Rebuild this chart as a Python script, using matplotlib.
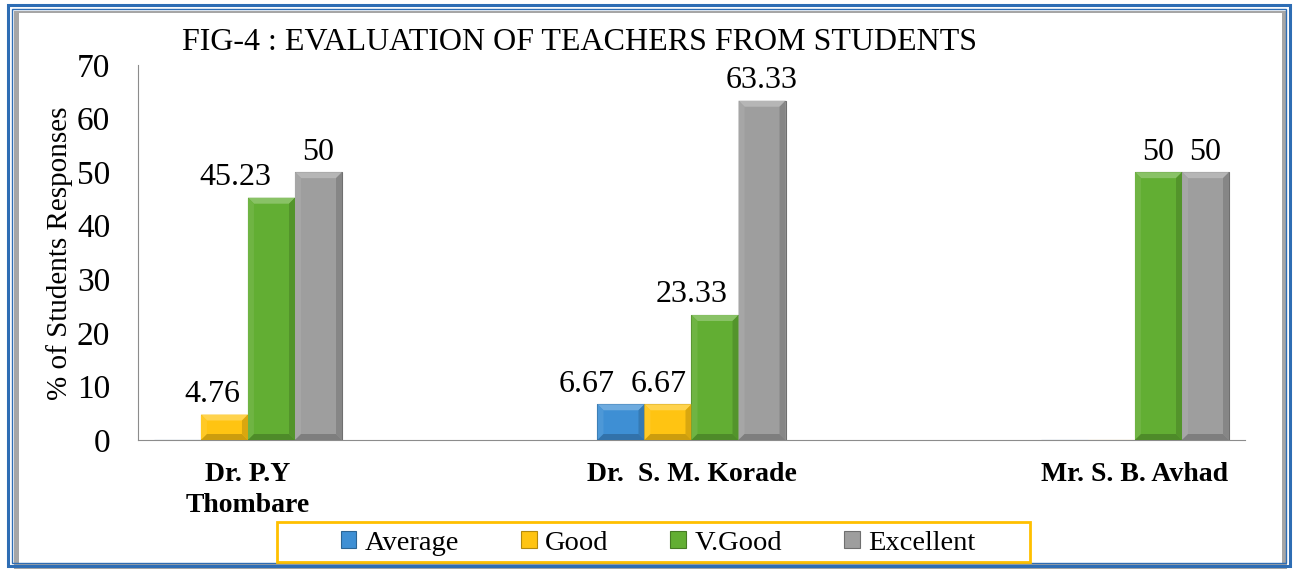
import matplotlib
matplotlib.use("Agg")
import matplotlib.pyplot as plt
import numpy as np
from matplotlib.patches import Rectangle, Polygon
import matplotlib.colors as mcolors

# ---- data ----
teachers = ["Dr. P.Y\nThombare", "Dr.  S. M. Korade", "Mr. S. B. Avhad"]
series_names = ["Average", "Good", "V.Good", "Excellent"]
average = [0, 6.67, 0]
good = [4.76, 6.67, 0]
vgood = [45.23, 23.33, 50]
excellent = [50, 63.33, 50]
value_labels = [
    ["", "6.67", ""],
    ["4.76", "6.67", ""],
    ["45.23", "23.33", "50"],
    ["50", "63.33", "50"],
]
# horizontal nudges of the value labels (points), as placed in the original
label_dx = [
    [0, -24.5, 0],
    [-9, -6.5, 0],
    [-26, -16.5, 0],
    [0, 0, 0],
]
yticks = [0, 10, 20, 30, 40, 50, 60, 70]

colors = ["#3E8FD4", "#FFC412", "#62AE33", "#9E9E9E"]

plt.rcParams["font.family"] = ["Liberation Serif", "DejaVu Serif"]

W, H = 1293, 569
fig = plt.figure(figsize=(W / 100, H / 100), dpi=100)

# ---- frame decoration ----
def frect(x0, y0, x1, y1, **kw):
    r = Rectangle((x0 / W, 1 - y1 / H), (x1 - x0) / W, (y1 - y0) / H,
                  transform=fig.transFigure, fill=False, **kw)
    fig.add_artist(r)

frect(7.5, 4.5, 1289.5, 566, edgecolor="#2E6DB4", linewidth=2.2)
frect(11.5, 8.5, 1286, 563, edgecolor="#2E6DB4", linewidth=1.0)
fig.add_artist(Rectangle((14 / W, 1 - 569 / H), (1287 - 14) / W, (569 - 11) / H,
                         transform=fig.transFigure, facecolor="#A6A6A6",
                         edgecolor="none", zorder=-2))
fig.add_artist(Rectangle((19 / W, 1 - 563 / H), (1282 - 19) / W, (563 - 13) / H,
                         transform=fig.transFigure, facecolor="white",
                         edgecolor="none", zorder=-1))

ax = fig.add_axes([138 / W, 1 - 440 / H, (1245 - 138) / W, (440 - 65) / H])
ax.patch.set_alpha(0)

x = np.arange(len(teachers))
bw = 0.106
data = [average, good, vgood, excellent]
offsets = [-1.5, -0.5, 0.5, 1.5]

def shade(c, f):
    r, g, b = mcolors.to_rgb(c)
    if f > 1:
        return (r + (1 - r) * (f - 1), g + (1 - g) * (f - 1), b + (1 - b) * (f - 1))
    return (r * f, g * f, b * f)

ax.set_xlim(-0.248, 2.248)
ax.set_ylim(0, 70)

bx = 6 / 443.5
by = 6 / (375 / 70)
for vals, off, col, labs, dxs in zip(data, offsets, colors, value_labels, label_dx):
    bars = ax.bar(x + off * bw, vals, width=bw, color=col,
                  edgecolor=shade(col, 0.7), linewidth=0.8, zorder=3)
    for b, lab, dx in zip(bars, labs, dxs):
        h = b.get_height()
        if h > 0:
            x0, x1 = b.get_x(), b.get_x() + b.get_width()
            d = min(by, h / 3)
            ax.add_patch(Polygon([(x0, h), (x1, h), (x1 - bx, h - d), (x0 + bx, h - d)],
                                 closed=True, facecolor=shade(col, 1.25),
                                 edgecolor="none", zorder=4))
            ax.add_patch(Polygon([(x1, h), (x1, 0), (x1 - bx, d), (x1 - bx, h - d)],
                                 closed=True, facecolor=shade(col, 0.85),
                                 edgecolor="none", zorder=4))
            ax.add_patch(Polygon([(x0, h), (x0, 0), (x0 + bx, d), (x0 + bx, h - d)],
                                 closed=True, facecolor=shade(col, 1.08),
                                 edgecolor="none", zorder=4))
            ax.add_patch(Polygon([(x0, 0), (x1, 0), (x1 - bx, d), (x0 + bx, d)],
                                 closed=True, facecolor=shade(col, 0.8),
                                 edgecolor="none", zorder=4))
        if lab:
            ax.annotate(lab, (b.get_x() + b.get_width() / 2, h),
                        xytext=(dx, 4), textcoords="offset points",
                        ha="center", va="bottom", fontsize=23, color="black",
                        zorder=10)

ax.set_yticks(yticks)
ax.set_yticklabels([str(t) for t in yticks], fontsize=24)
ax.set_xticks(x)
ax.set_xticklabels(teachers, fontsize=20, fontweight="bold", linespacing=1.3)
ax.tick_params(axis="both", length=0)
ax.tick_params(axis="y", pad=20)
ax.tick_params(axis="x", pad=16)

for s in ["top", "right"]:
    ax.spines[s].set_visible(False)
ax.spines["left"].set_color("#8C8C8C")
ax.spines["bottom"].set_color("#8C8C8C")

fig.text(60 / W, 1 - 253 / H, "% of Students Responses", rotation=90,
         ha="center", va="center", fontsize=21)
fig.text(182 / W, 1 - 42 / H, "FIG-4 : EVALUATION OF TEACHERS FROM STUDENTS",
         ha="left", va="center", fontsize=23)

# legend
handles = [Rectangle((0, 0), 1, 1, facecolor=c, edgecolor=shade(c, 0.7), linewidth=0.8)
           for c in colors]
leg = fig.legend(handles, series_names, loc="center",
                 bbox_to_anchor=(658 / W, 1 - 543 / H), ncol=4, frameon=False,
                 fontsize=20.5, handlelength=0.55, handleheight=0.55,
                 handletextpad=0.3, columnspacing=2.17)
frect(277, 522, 1030, 562, edgecolor="#FFC000", linewidth=2)

fig.savefig("out.png", dpi=100)
